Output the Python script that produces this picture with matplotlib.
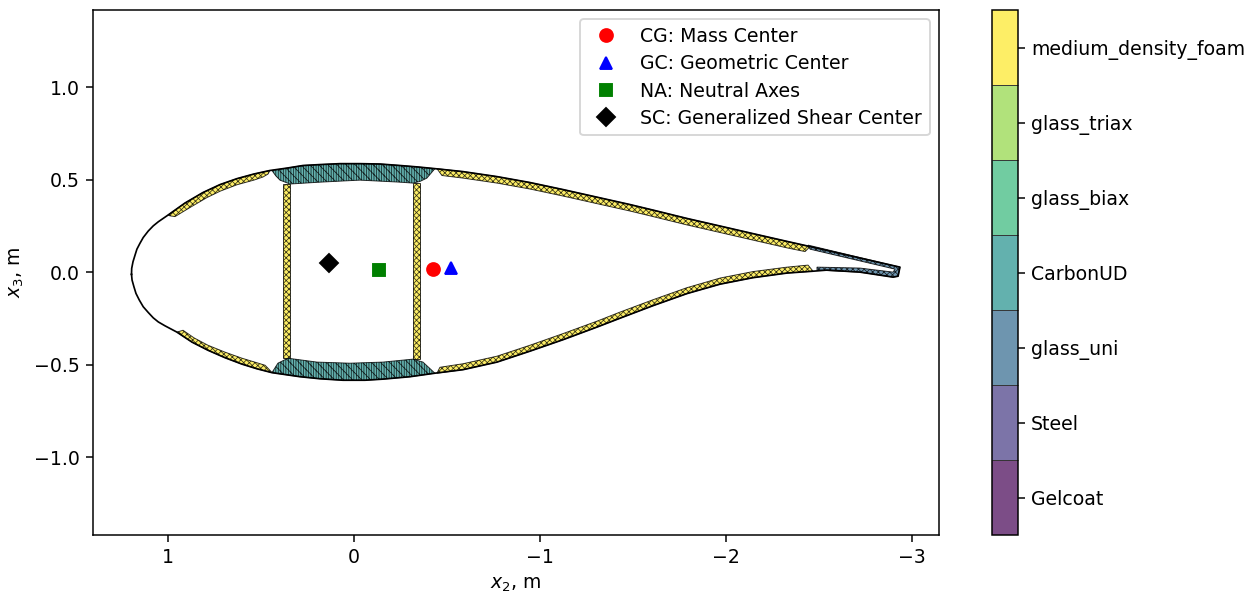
# cross section plot with material regions and section centers
import numpy as np
import matplotlib
matplotlib.use('Agg')
from matplotlib import pyplot as plt
from matplotlib.cm import ScalarMappable
from matplotlib.colors import BoundaryNorm

# material names, bottom to top of the colorbar
materials = ['Gelcoat', 'Steel', 'glass_uni', 'CarbonUD', 'glass_biax', 'glass_triax', 'medium_density_foam']

# outer contour of the blade section (x2, x3)
outer_x2 = [1.196, 1.195, 1.188, 1.177, 1.167, 1.151, 1.133, 1.106, 1.079, 1.052, 1.000, 0.909, 0.812, 0.720, 0.629, 0.538, 0.452,
            0.360, 0.274, 0.183, 0.075, -0.032, -0.140, -0.247, -0.344, -0.435,
            -0.586, -0.769, -0.946, -1.124, -1.306, -1.484, -1.608, -1.790, -1.968, -2.145, -2.328, -2.452,
            -2.935, -2.925, -2.898, -2.720, -2.543, -2.468, -2.328, -2.145, -1.968, -1.790, -1.608, -1.430,
            -1.306, -1.124, -0.946, -0.769, -0.586, -0.435, -0.301, -0.156, -0.059, 0.059, 0.183, 0.290, 0.441,
            0.522, 0.602, 0.694, 0.785, 0.871, 0.952, 1.016, 1.052, 1.079, 1.106, 1.133, 1.154, 1.172, 1.183, 1.193, 1.196]
outer_x3 = [-0.012, 0.020, 0.056, 0.092, 0.124, 0.155, 0.187, 0.222, 0.250, 0.272, 0.308, 0.373, 0.430, 0.473, 0.505, 0.530, 0.549,
            0.562, 0.576, 0.581, 0.586, 0.586, 0.584, 0.576, 0.568, 0.559,
            0.543, 0.516, 0.484, 0.446, 0.405, 0.365, 0.335, 0.290, 0.249, 0.208, 0.166, 0.138,
            0.027, -0.022, -0.027, 0.000, 0.011, 0.005, -0.005, -0.030, -0.065, -0.116, -0.181, -0.249,
            -0.297, -0.365, -0.427, -0.486, -0.527, -0.546, -0.565, -0.578, -0.584, -0.584, -0.576, -0.565, -0.543,
            -0.522, -0.497, -0.462, -0.422, -0.378, -0.324, -0.290, -0.269, -0.247, -0.218, -0.187, -0.151, -0.115, -0.079, -0.043, -0.012]

# regions: outline x2, outline x3, material index
upper_le_x2 = [1.000, 0.909, 0.812, 0.720, 0.629, 0.538, 0.452, 0.462, 0.489, 0.538, 0.629, 0.720, 0.790, 0.880, 0.962, 0.989]
upper_le_x3 = [0.308, 0.373, 0.430, 0.473, 0.505, 0.530, 0.549, 0.530, 0.514, 0.497, 0.472, 0.437, 0.403, 0.350, 0.300, 0.304]

upper_cap_x2 = [0.441, 0.360, 0.274, 0.183, 0.075, -0.032, -0.140, -0.247, -0.344, -0.435, -0.392, -0.355, -0.317,
                -0.247, -0.032, 0.183, 0.344, 0.398, 0.420]
upper_cap_x3 = [0.549, 0.562, 0.576, 0.581, 0.586, 0.586, 0.584, 0.576, 0.568, 0.559, 0.508, 0.490, 0.481,
                0.486, 0.497, 0.486, 0.476, 0.497, 0.520]

lower_cap_x2 = [0.441, 0.290, 0.183, 0.059, -0.059, -0.156, -0.301, -0.435, -0.371, -0.317, -0.156, 0.022, 0.199, 0.355, 0.409]
lower_cap_x3 = [-0.543, -0.565, -0.576, -0.584, -0.584, -0.578, -0.565, -0.546, -0.486, -0.470, -0.486, -0.492, -0.486, -0.465, -0.492]

spar1_x2 = [0.382, 0.344, 0.344, 0.382]
spar1_x3 = [0.476, 0.476, -0.465, -0.465]
spar2_x2 = [-0.317, -0.355, -0.355, -0.317]
spar2_x3 = [0.481, 0.481, -0.470, -0.470]

upper_te_x2 = [-0.446, -0.586, -0.769, -0.946, -1.124, -1.306, -1.484, -1.608, -1.790, -1.968, -2.145, -2.328, -2.452,
               -2.425, -2.328, -2.145, -1.968, -1.790, -1.608, -1.484, -1.306, -1.124, -0.946, -0.769, -0.586, -0.473]
upper_te_x3 = [0.559, 0.543, 0.516, 0.484, 0.446, 0.405, 0.365, 0.335, 0.290, 0.249, 0.208, 0.166, 0.138,
               0.111, 0.131, 0.173, 0.214, 0.255, 0.300, 0.330, 0.370, 0.411, 0.449, 0.481, 0.508, 0.522]

lower_te_x2 = [-0.446, -0.586, -0.769, -0.946, -1.124, -1.306, -1.430, -1.608, -1.790, -1.968, -2.145, -2.328, -2.468,
               -2.441, -2.328, -2.145, -1.968, -1.790, -1.608, -1.430, -1.306, -1.124, -0.946, -0.769, -0.586, -0.462]
lower_te_x3 = [-0.546, -0.527, -0.486, -0.427, -0.365, -0.297, -0.249, -0.181, -0.116, -0.065, -0.030, -0.005, 0.005,
               0.038, 0.027, 0.003, -0.032, -0.084, -0.149, -0.216, -0.265, -0.332, -0.395, -0.454, -0.495, -0.514]

lower_le_x2 = [0.952, 0.871, 0.785, 0.694, 0.602, 0.522, 0.441, 0.452, 0.478, 0.602, 0.694, 0.785, 0.860, 0.919]
lower_le_x3 = [-0.324, -0.378, -0.422, -0.462, -0.497, -0.522, -0.543, -0.530, -0.503, -0.465, -0.432, -0.395, -0.355, -0.314]

te_strip_x2 = [-2.441, -2.935, -2.925, -2.898, -2.720, -2.489, -2.489, -2.720, -2.898, -2.909, -2.452]
te_strip_x3 = [0.146, 0.027, -0.022, -0.027, 0.000, 0.011, 0.027, 0.022, 0.000, 0.016, 0.124]

regions = [(upper_le_x2, upper_le_x3, 6), (lower_le_x2, lower_le_x3, 6),
           (upper_te_x2, upper_te_x3, 6), (lower_te_x2, lower_te_x3, 6),
           (spar1_x2, spar1_x3, 6), (spar2_x2, spar2_x3, 6),
           (upper_cap_x2, upper_cap_x3, 3), (lower_cap_x2, lower_cap_x3, 3),
           (te_strip_x2, te_strip_x3, 2)]

# section centers
center_labels = ['CG: Mass Center', 'GC: Geometric Center', 'NA: Neutral Axes', 'SC: Generalized Shear Center']
center_x2 = [-0.425, -0.52, -0.135, 0.135]
center_x3 = [0.016, 0.025, 0.010, 0.050]
center_markers = ['o', '^', 's', 'D']
center_colors = ['red', 'blue', 'green', 'black']

plt.rcParams['hatch.linewidth'] = 0.4

DPI = 136
fig = plt.figure(figsize=(1257 / DPI, 592 / DPI), dpi=DPI)
ax = fig.add_axes([93 / 1257, 57 / 592, 846 / 1257, 525 / 592])
cax = fig.add_axes([992 / 1257, 57 / 592, 26 / 1257, 525 / 592])

cmap = plt.get_cmap('viridis', len(materials))
hatches = {6: 'xxxxxxxx', 3: '|||||||||\\\\\\\\\\', 2: 'xxxxxxxx'}

for x2, x3, mat in regions:
    ax.fill(x2, x3, facecolor=cmap(mat)[:3] + (0.7,), edgecolor=(0, 0, 0, 0.8), linewidth=0.5, hatch=hatches[mat])

ax.plot(outer_x2, outer_x3, color='black', linewidth=0.9)

for i in range(len(center_labels)):
    ax.plot(center_x2[i], center_x3[i], linestyle='none', marker=center_markers[i], color=center_colors[i],
            markersize=6.8, label=center_labels[i])

ax.legend(loc='upper right', numpoints=1, labelspacing=0.44, borderaxespad=0.5)
ax.set_xlim(1.403, -3.145)
ax.set_ylim(-1.42, 1.416)
ax.set_xticks([1, 0, -1, -2, -3])
ax.set_yticks([-1, -0.5, 0, 0.5, 1])
ax.set_xlabel('$x_2$, m')
ax.set_ylabel('$x_3$, m')

norm = BoundaryNorm(np.arange(len(materials) + 1), len(materials))
cb = fig.colorbar(ScalarMappable(norm=norm, cmap=cmap), cax=cax, alpha=0.7, drawedges=True)
cb.set_ticks(np.arange(len(materials)) + 0.5)
cb.set_ticklabels(materials)
cb.minorticks_off()
cb.dividers.set_linewidth(0.5)
cb.dividers.set_color('#333333')

fig.savefig('out.png', dpi=DPI)
